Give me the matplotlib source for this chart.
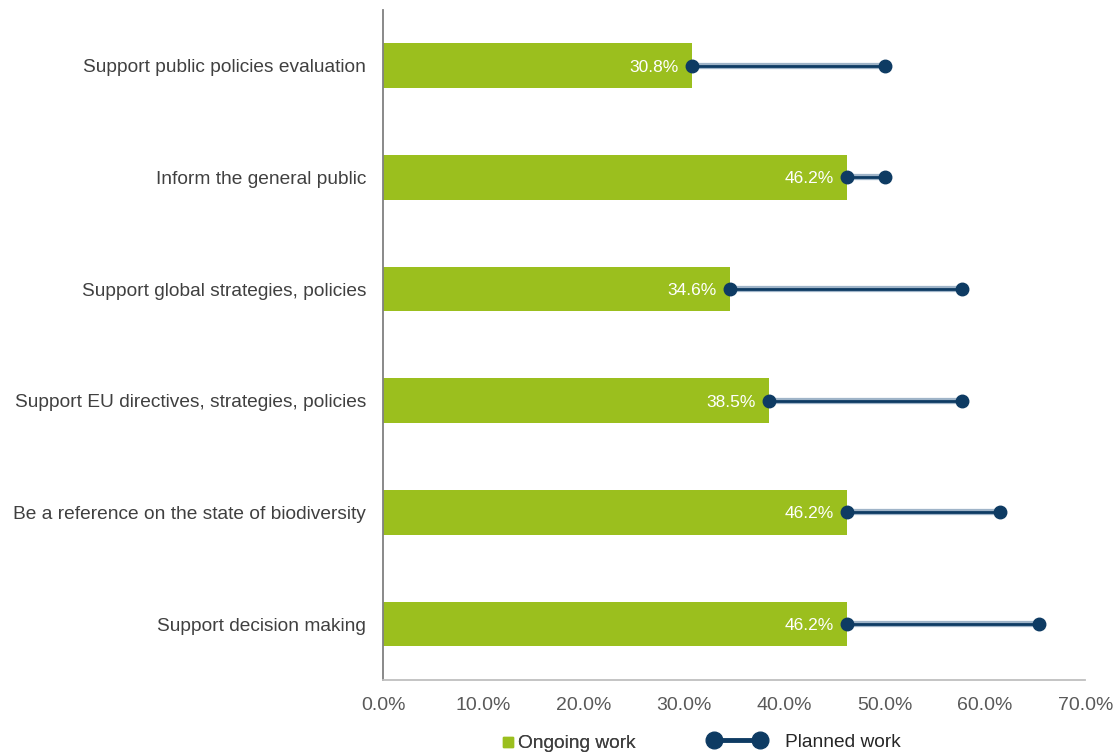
#!/usr/bin/env python3

import numpy as np
from matplotlib import pyplot as plt
from matplotlib.lines import Line2D

plt.rcParams['font.family'] = ['Liberation Sans', 'DejaVu Sans']

categories = ['Support public policies evaluation',
              'Inform the general public',
              'Support global strategies, policies',
              'Support EU directives, strategies, policies',
              'Be a reference on the state of biodiversity',
              'Support decision making']
ongoing = [30.8, 46.2, 34.6, 38.5, 46.2, 46.2]
planned = [50.0, 50.0, 57.7, 57.7, 61.5, 65.4]
xticks = [0, 10, 20, 30, 40, 50, 60, 70]

green = '#9BBF1E'
navy = '#0E3B63'


def main():
    fig = plt.figure(figsize=(11.2, 7.53), dpi=100)
    ax = fig.add_axes([0.342, 0.097, 0.627, 0.89])
    y = np.arange(len(categories))

    ax.barh(y, ongoing, height=0.4, color=green, zorder=2)
    for yi, a, b in zip(y, ongoing, planned):
        ax.plot([a, b], [yi, yi], color='#9FB4C8', lw=4.5, zorder=3,
                solid_capstyle='butt')
        ax.plot([a, b], [yi, yi], color=navy, lw=2, zorder=4)
        ax.plot([a, b], [yi, yi], 'o', color=navy, ms=9, zorder=5)
        ax.text(a - 1.3, yi, f'{a:.1f}%', color='white', fontsize=12.5,
                ha='right', va='center_baseline', zorder=6)

    ax.set_ylim(len(categories) - 0.5, -0.5)
    ax.set_xlim(0, 70)
    ax.set_yticks(y)
    ax.set_yticklabels(categories, fontsize=13.8, color='#404040')
    ax.set_xticks(xticks)
    ax.set_xticklabels([f'{t:.1f}%' for t in xticks], fontsize=14,
                       color='#595959')
    ax.tick_params(length=0)
    ax.tick_params(axis='y', pad=12)
    ax.tick_params(axis='x', pad=12)
    for s in ['top', 'right']:
        ax.spines[s].set_visible(False)
    ax.spines['left'].set_color('#808080')
    ax.spines['left'].set_linewidth(1.3)
    ax.spines['bottom'].set_color('#BFBFBF')
    ax.spines['bottom'].set_linewidth(1.3)

    h1 = Line2D([], [], marker='s', color=green, ls='none', ms=7)
    h2 = Line2D([], [], marker='o', color=navy, lw=3.5, ms=12)
    leg1 = fig.legend([h1], ['Ongoing work'], loc='center',
                      bbox_to_anchor=(0.508, 0.0125), frameon=False,
                      fontsize=13.8, handlelength=0.6, handletextpad=0.25,
                      labelcolor='#404040')
    fig.legend([h2], ['Planned work'], loc='center',
               bbox_to_anchor=(0.718, 0.0145), frameon=False, fontsize=13.8,
               handlelength=3.0, handletextpad=1.0, numpoints=2,
               labelcolor='#262626')
    fig.add_artist(leg1)

    plt.savefig('out.png', dpi=100)


if __name__ == '__main__':
    main()
